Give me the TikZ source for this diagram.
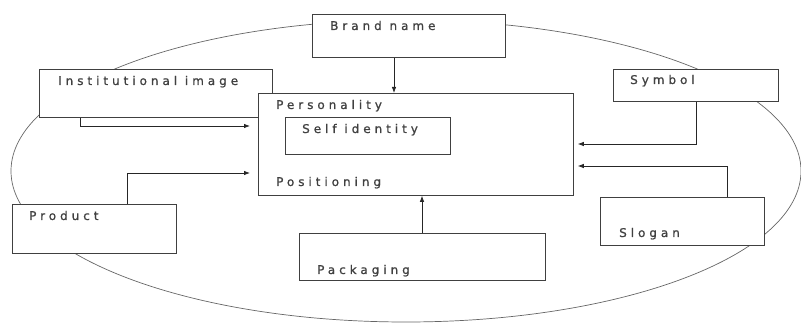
\documentclass[tikz,border=0pt]{standalone}
\usepackage{fontspec}
\newfontfamily\lblfont{DejaVu Sans}[LetterSpace=33,FakeBold=0.8]
\usetikzlibrary{arrows.meta}

\begin{document}
\begin{tikzpicture}[x=1pt,y=-1pt,
  box/.style={draw=black!75,line width=0.8pt,fill=white,anchor=north west,inner sep=0pt},
  lbl/.style={anchor=base west,inner sep=0pt,text=black!75,font=\lblfont\fontsize{12}{14}\selectfont},
  arr/.style={draw=black!85,line width=0.8pt,-{Latex[length=6pt,width=4.5pt]}}]
\useasboundingbox (0,0) rectangle (801,323);

% Outer ellipse
\draw[black!60,line width=0.7pt] (406,171) ellipse [x radius=395pt,y radius=151pt];

% Boxes
\node[box,minimum width=193pt,minimum height=43pt] (brand) at (312,14) {};
\node[box,minimum width=233pt,minimum height=48pt] (inst) at (39,69) {};
\node[box,minimum width=315pt,minimum height=102pt] (pers) at (258,93) {};
\node[box,minimum width=165pt,minimum height=37pt] (self) at (285,117) {};
\node[box,minimum width=165pt,minimum height=32pt] (sym) at (613,69) {};
\node[box,minimum width=164pt,minimum height=48pt] (slog) at (600,197) {};
\node[box,minimum width=164pt,minimum height=49pt] (prod) at (12,204) {};
\node[box,minimum width=246pt,minimum height=47pt] (pack) at (299,233) {};

% Labels
\node[lbl] (brandtxt) at (330,30) {Brand name};
\node[lbl] (insttxt) at (58,85) {Institutional image};
\node[lbl] (perstxt) at (276,109) {Personality};
\node[lbl] (selftxt) at (302,133) {Self identity};
\node[lbl] (postxt) at (276,186) {Positioning};
\node[lbl] (symtxt) at (630,84) {Symbol};
\node[lbl] (slogtxt) at (619,237) {Slogan};
\node[lbl] (prodtxt) at (29,220) {Product};
\node[lbl] (packtxt) at (317,274) {Packaging};

% Connectors
\coordinate (bx) at (394,0);
\coordinate (ix) at (80,0);
\coordinate (iy) at (0,126);
\coordinate (px) at (127,0);
\coordinate (py) at (0,173);
\coordinate (sx) at (696,0);
\coordinate (sy) at (0,144);
\coordinate (gx) at (727,0);
\coordinate (gy) at (0,166);
\coordinate (kx) at (422,0);
\draw[arr] (bx |- brand.south) -- (bx |- pers.north);
\draw[arr,shorten >=8pt] (ix |- inst.south) |- (pers.west |- iy);
\draw[arr,shorten >=8pt] (px |- prod.north) |- (pers.west |- py);
\draw[arr,shorten >=4pt] (sx |- sym.south) |- (pers.east |- sy);
\draw[arr,shorten >=4pt] (gx |- slog.north) |- (pers.east |- gy);
\draw[arr] (kx |- pack.north) -- (kx |- pers.south);
\end{tikzpicture}
\end{document}
